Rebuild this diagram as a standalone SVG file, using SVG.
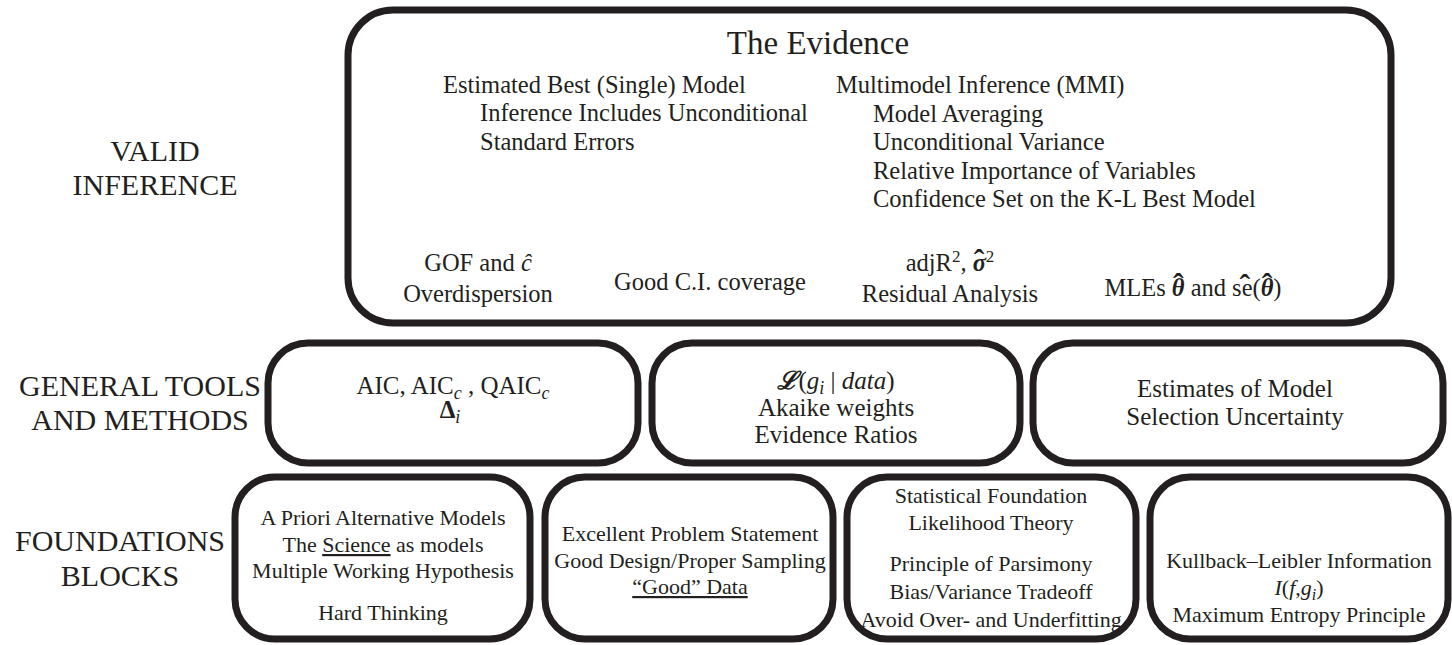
<svg xmlns="http://www.w3.org/2000/svg" width="1452" height="645" viewBox="0 0 1452 645">
<style>
.box{fill:#fff;stroke:#231f20;stroke-width:7}
text{font-family:"Liberation Serif","Times New Roman",serif;fill:#231f20}
.lbl{font-size:30px;text-anchor:middle}
.t{font-size:24.5px}
.g{font-size:25px;text-anchor:middle}
.c{font-size:22px;text-anchor:middle}
.it{font-style:italic}
.b{font-weight:bold}
.hat{font-weight:bold;font-style:normal;font-size:32px}
.sup{font-size:17px}
</style>
<rect width="1452" height="645" fill="#fff"/>
<g id="labels">
<text class="lbl" x="155" y="161">VALID</text>
<text class="lbl" x="155" y="195">INFERENCE</text>
<text class="lbl" x="140" y="396">GENERAL TOOLS</text>
<text class="lbl" x="140" y="430">AND METHODS</text>
<text class="lbl" x="120" y="551">FOUNDATIONS</text>
<text class="lbl" x="120" y="586">BLOCKS</text>
</g>
<g id="evidence">
<rect class="box" x="348" y="10" width="1043" height="313" rx="45"/>
<text x="818" y="54" font-size="33" text-anchor="middle">The Evidence</text>
<text class="t" x="443" y="93">Estimated Best (Single) Model</text>
<text class="t" x="480" y="121">Inference Includes Unconditional</text>
<text class="t" x="480" y="150">Standard Errors</text>
<text class="t" x="836" y="93">Multimodel Inference (MMI)</text>
<text class="t" x="873" y="122">Model Averaging</text>
<text class="t" x="873" y="150">Unconditional Variance</text>
<text class="t" x="873" y="179">Relative Importance of Variables</text>
<text class="t" x="873" y="207">Confidence Set on the K-L Best Model</text>
<text class="t" x="478" y="271" text-anchor="middle">GOF and <tspan class="it">ĉ</tspan></text>
<text class="t" x="478" y="302" text-anchor="middle">Overdispersion</text>
<text class="t" x="710" y="290" text-anchor="middle">Good C.I. coverage</text>
<text class="t" x="950" y="271" text-anchor="middle">adjR<tspan class="sup" dy="-9">2</tspan><tspan dy="9">, </tspan><tspan class="b it">σ</tspan><tspan class="hat" dx="-12.3">ˆ</tspan><tspan class="sup" dx="1.5" dy="-9">2</tspan></text>
<text class="t" x="950" y="302" text-anchor="middle">Residual Analysis</text>
<text class="t" x="1193" y="296" text-anchor="middle">MLEs <tspan class="b it">θ</tspan><tspan class="hat" dx="-11.6" dy="-1">ˆ</tspan><tspan dx="0.9" dy="1"> and se</tspan><tspan class="hat" dx="-13">ˆ</tspan><tspan dx="2.3">(</tspan><tspan class="b it">θ</tspan><tspan class="hat" dx="-11.6" dy="-1">ˆ</tspan><tspan dx="0.9" dy="1">)</tspan></text>
</g>
<g id="tools-aic">
<rect class="box" x="268" y="343" width="370" height="120" rx="40"/>
<text class="g" x="453" y="394">AIC, AIC<tspan class="it" font-size="18" dy="5">c</tspan><tspan dy="-5"> , QAIC</tspan><tspan class="it" font-size="18" dy="5">c</tspan></text>
<text class="g" x="450" y="418"><tspan class="b">Δ</tspan><tspan class="it" font-size="18" dy="5">i</tspan></text>
</g>
<g id="tools-likelihood">
<rect class="box" x="652" y="343" width="368" height="120" rx="40"/>
<text class="g" x="836" y="389"><tspan class="b it">ℒ</tspan>(<tspan class="it">g</tspan><tspan class="it" font-size="18" dy="5">i</tspan><tspan dy="-5"> | </tspan><tspan class="it">data</tspan>)</text>
<text class="g" x="836" y="416">Akaike weights</text>
<text class="g" x="836" y="443">Evidence Ratios</text>
</g>
<g id="tools-uncertainty">
<rect class="box" x="1033" y="343" width="410" height="120" rx="40"/>
<text class="g" x="1235" y="397">Estimates of Model</text>
<text class="g" x="1235" y="425">Selection Uncertainty</text>
</g>
<g id="found-models">
<rect class="box" x="235" y="477" width="295" height="162" rx="40"/>
<text class="c" x="383" y="525">A Priori Alternative Models</text>
<text class="c" x="383" y="552">The <tspan text-decoration="underline">Science</tspan> as models</text>
<text class="c" x="383" y="578">Multiple Working Hypothesis</text>
<text class="c" x="383" y="620">Hard Thinking</text>
</g>
<g id="found-data">
<rect class="box" x="545" y="477" width="288" height="162" rx="40"/>
<text class="c" x="690" y="541">Excellent Problem Statement</text>
<text class="c" x="690" y="568">Good Design/Proper Sampling</text>
<text class="c" x="690" y="594" text-decoration="underline">“Good” Data</text>
</g>
<g id="found-stats">
<rect class="box" x="847" y="477" width="289" height="162" rx="40"/>
<text class="c" x="991" y="503">Statistical Foundation</text>
<text class="c" x="991" y="530">Likelihood Theory</text>
<text class="c" x="991" y="571">Principle of Parsimony</text>
<text class="c" x="991" y="599">Bias/Variance Tradeoff</text>
<text class="c" x="991" y="627">Avoid Over- and Underfitting</text>
</g>
<g id="found-kl">
<rect class="box" x="1150" y="477" width="298" height="162" rx="40"/>
<text class="c" x="1299" y="568">Kullback–Leibler Information</text>
<text class="c" x="1299" y="595"><tspan class="it">I</tspan>(<tspan class="it">f</tspan>,<tspan class="it">g</tspan><tspan class="it" font-size="16" dy="5">i</tspan><tspan dy="-5">)</tspan></text>
<text class="c" x="1299" y="622">Maximum Entropy Principle</text>
</g>
<g id="connectors"></g>
</svg>
